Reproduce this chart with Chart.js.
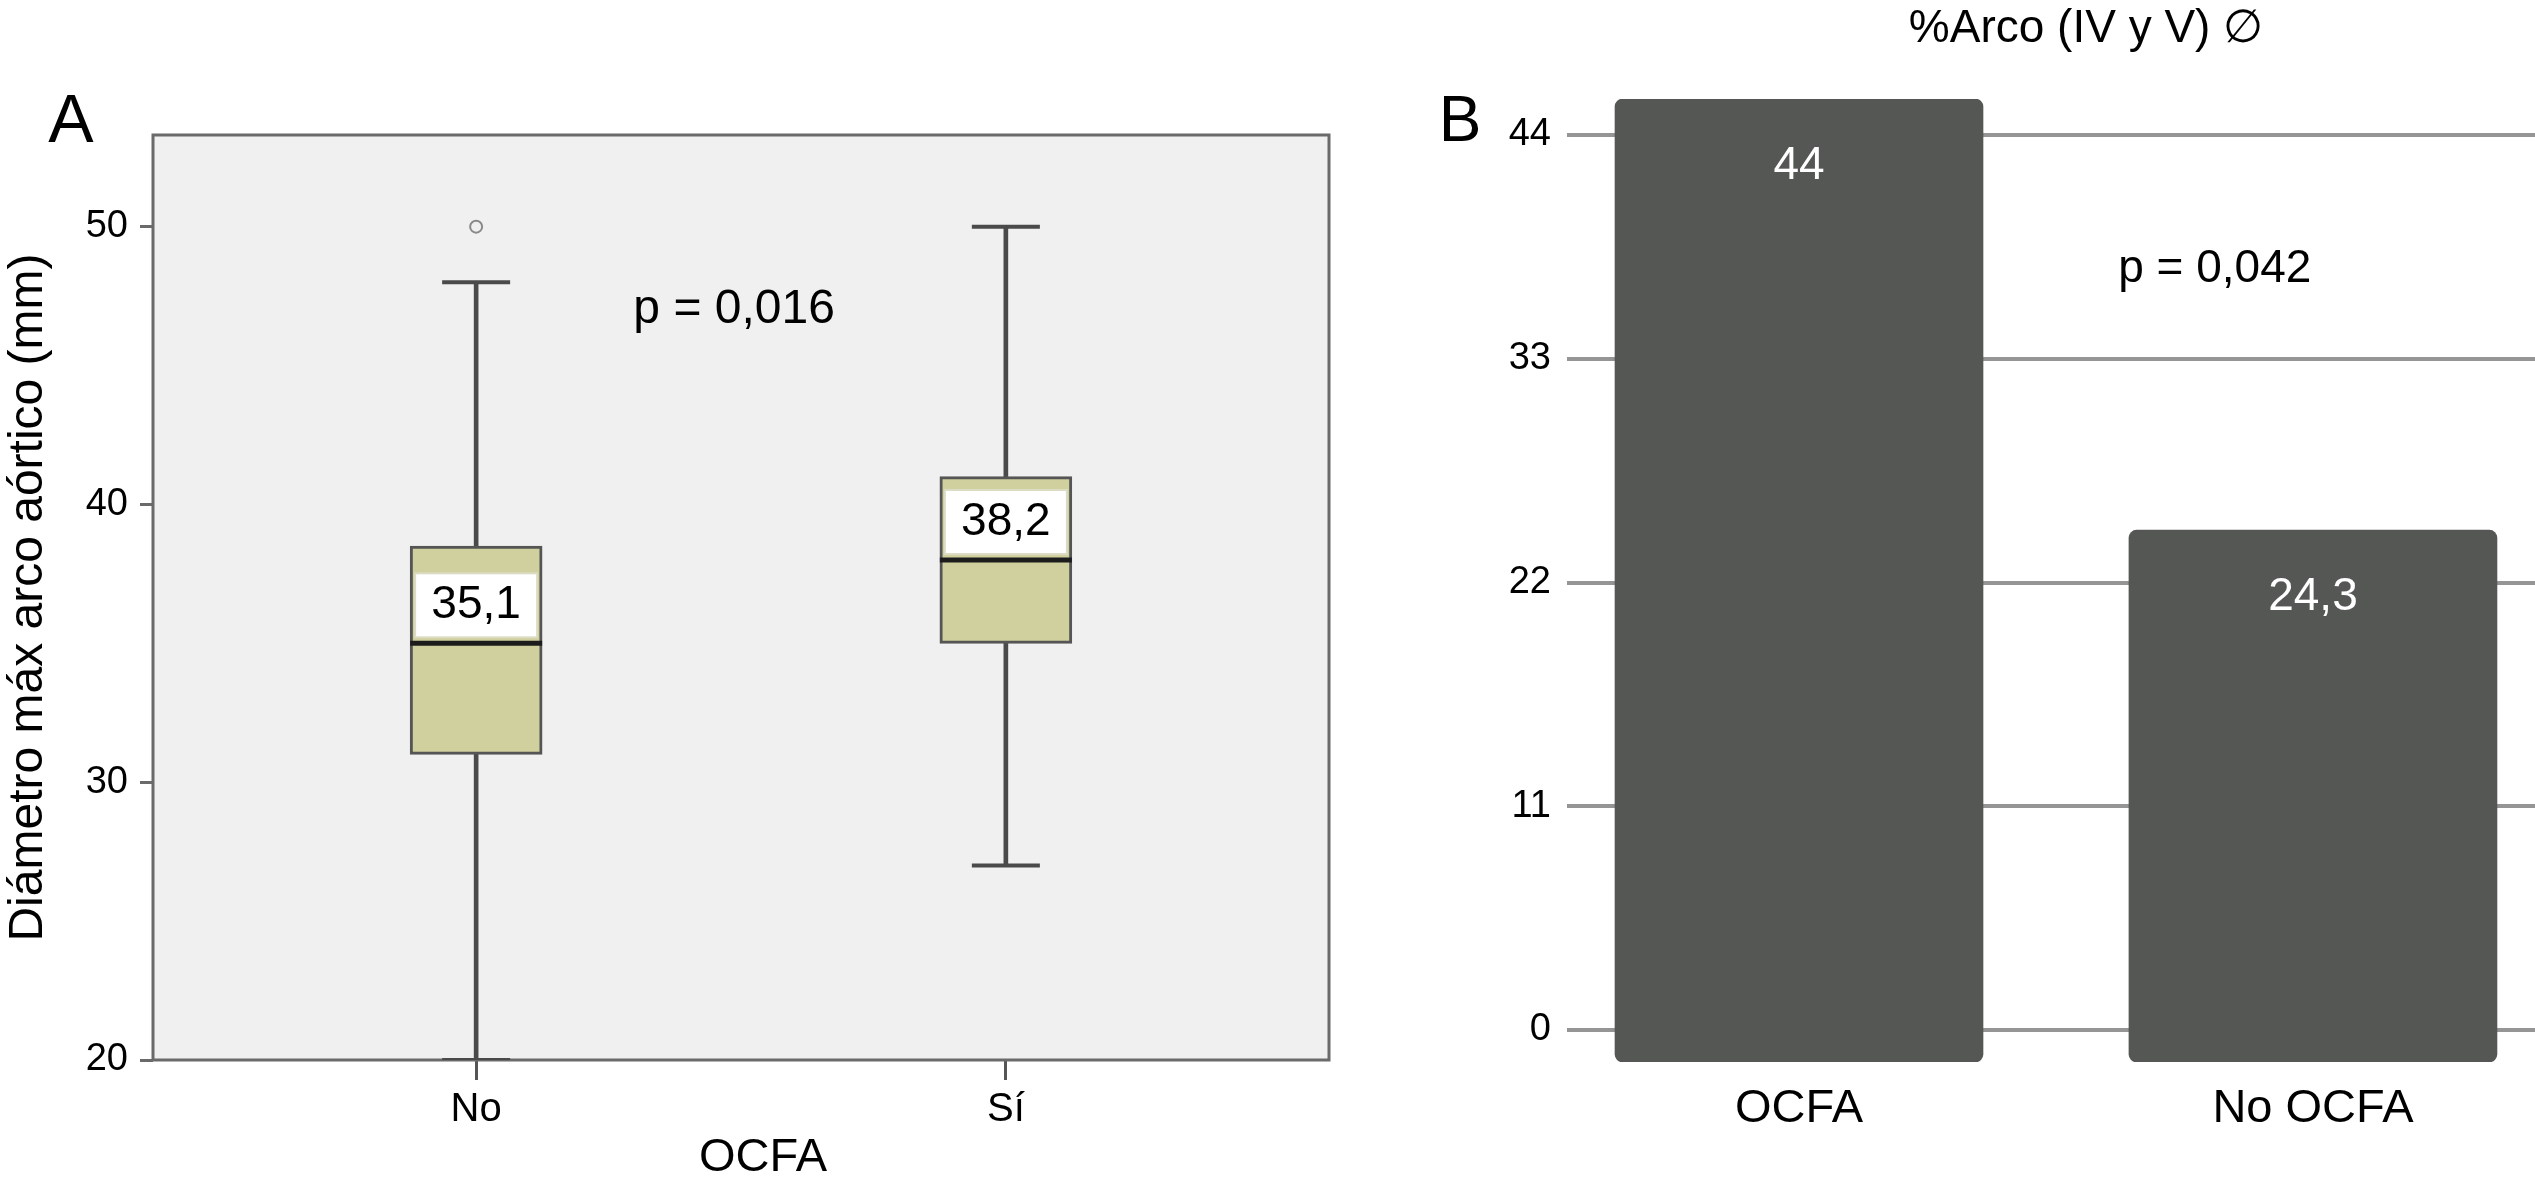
<!DOCTYPE html>
<html>
<head>
<meta charset="utf-8">
<title>OCFA</title>
<script src="https://cdn.jsdelivr.net/npm/chart.js@4.4.1/dist/chart.umd.min.js"></script>
<style>
  body { margin: 0; background: #fff; width: 2535px; height: 1187px; position: relative; overflow: hidden; }
  #panelA { position: absolute; left: 0; top: 0; }
  #panelB { position: absolute; left: 1400px; top: 0; }
</style>
</head>
<body>
<canvas id="panelA" width="1400" height="1187"></canvas>
<canvas id="panelB" width="1135" height="1187"></canvas>
<script>
// --- datos panel A (boxplot) ---
const gruposA = ['No', 'Sí'];
const bigoteMinA = [20, 27];
const q1A = [31, 35];
const medianaA = [35, 38];
const q3A = [38.5, 41];
const bigoteMaxA = [48, 50];
const mediaA = [35.1, 38.2];
const atipicosA = [[50], []];
const ticksA = [20, 30, 40, 50];

// --- datos panel B (barras) ---
const gruposB = ['OCFA', 'No OCFA'];
const porcentajeB = [44, 24.3];
const ticksB = [0, 11, 22, 33, 44];

Chart.defaults.font.family = "'Liberation Sans', Arial, Helvetica, sans-serif";
Chart.defaults.color = '#000';

let coma = v => String(v).replace('.', ',');

// textos sueltos (letras de panel, titulos, p)
const textos = {
    id: 'textos',
    afterDraw(chart, args, opts) {
        let ctx = chart.ctx;
        (opts.items || []).forEach(t => {
            let x = t.x, y = t.y;
            if (t.enEscala) {
                x = chart.scales.x.getPixelForValue(t.x);
                y = chart.scales.y.getPixelForValue(t.y);
            }
            ctx.save();
            ctx.font = t.font;
            ctx.fillStyle = t.color || '#000';
            ctx.textAlign = 'center';
            ctx.textBaseline = 'middle';
            ctx.fillText(t.text, x, y);
            ctx.restore();
        });
    }
};

// fondo gris y marco del area del grafico A
const marco = {
    id: 'marco',
    beforeDraw(chart) {
        let a = chart.chartArea;
        let ctx = chart.ctx;
        ctx.save();
        ctx.fillStyle = '#f0f0f0';
        ctx.fillRect(a.left, a.top, a.right - a.left, a.bottom - a.top);
        ctx.restore();
    },
    beforeDatasetsDraw(chart) {
        let a = chart.chartArea;
        let ctx = chart.ctx;
        ctx.save();
        ctx.strokeStyle = '#6a6a6a';
        ctx.lineWidth = 3;
        ctx.strokeRect(a.left, a.top, a.right - a.left, a.bottom - a.top);
        ctx.restore();
    }
};

// etiquetas blancas con la media sobre la mediana
const etiquetasMedia = {
    id: 'etiquetasMedia',
    afterDatasetsDraw(chart) {
        let ctx = chart.ctx;
        let sx = chart.scales.x, sy = chart.scales.y;
        gruposA.forEach((g, i) => {
            let x = sx.getPixelForValue(i);
            let yMed = sy.getPixelForValue(medianaA[i]);
            let w = 122, h = 64;
            ctx.save();
            ctx.fillStyle = '#fff';
            ctx.strokeStyle = '#dcdcc4';
            ctx.lineWidth = 2;
            ctx.fillRect(x - w / 2, yMed - 6 - h, w, h);
            ctx.strokeRect(x - w / 2, yMed - 6 - h, w, h);
            ctx.font = "46px 'Liberation Sans', Arial, sans-serif";
            ctx.fillStyle = '#000';
            ctx.textAlign = 'center';
            ctx.textBaseline = 'middle';
            ctx.fillText(coma(mediaA[i]), x, yMed - 6 - h / 2);
            ctx.restore();
        });
    }
};

// valores dentro de las barras B
const valoresBarra = {
    id: 'valoresBarra',
    afterDatasetsDraw(chart) {
        let ctx = chart.ctx;
        let meta = chart.getDatasetMeta(0);
        meta.data.forEach((bar, i) => {
            ctx.save();
            ctx.font = "46px 'Liberation Sans', Arial, sans-serif";
            ctx.fillStyle = '#fff';
            ctx.textAlign = 'center';
            ctx.textBaseline = 'middle';
            ctx.fillText(coma(porcentajeB[i]), bar.x, bar.y + 67);
            ctx.restore();
        });
    }
};

let cajas = gruposA.map((g, i) => ({ x: i, y: [q1A[i], q3A[i]] }));
let bigotesBajos = gruposA.map((g, i) => ({ x: i, y: [bigoteMinA[i], q1A[i]] }));
let bigotesAltos = gruposA.map((g, i) => ({ x: i, y: [q3A[i], bigoteMaxA[i]] }));
let topes = [];
gruposA.forEach((g, i) => {
    topes.push({ x: i, y: bigoteMinA[i] });
    topes.push({ x: i, y: bigoteMaxA[i] });
});
let medianas = gruposA.map((g, i) => ({ x: i, y: medianaA[i] }));
let atipicos = atipicosA.flatMap((vals, i) => vals.map(v => ({ x: i, y: v })));

new Chart(document.getElementById('panelA'), {
    type: 'bar',
    data: {
        datasets: [
            {
                type: 'scatter', data: medianas, order: 0,
                pointStyle: 'line', pointRadius: 66, pointBorderWidth: 5,
                pointBorderColor: '#1c1c1c', pointBackgroundColor: '#1c1c1c'
            },
            {
                type: 'scatter', data: atipicos, order: 1,
                pointStyle: 'circle', pointRadius: 6, pointBorderWidth: 2,
                pointBorderColor: '#8a8a8a', pointBackgroundColor: '#f0f0f0'
            },
            {
                type: 'scatter', data: topes, order: 2,
                pointStyle: 'line', pointRadius: 34, pointBorderWidth: 4,
                pointBorderColor: '#4a4a4a'
            },
            {
                data: cajas, order: 3, grouped: false, barThickness: 132,
                backgroundColor: '#cfd09d', borderColor: '#555555',
                borderWidth: 3, borderSkipped: false
            },
            {
                data: bigotesBajos, order: 4, grouped: false, barThickness: 4,
                backgroundColor: '#4a4a4a', borderWidth: 0
            },
            {
                data: bigotesAltos, order: 4, grouped: false, barThickness: 4,
                backgroundColor: '#4a4a4a', borderWidth: 0
            }
        ]
    },
    options: {
        responsive: false,
        devicePixelRatio: 1,
        animation: false,
        layout: { padding: { top: 135, right: 68, left: 0, bottom: 0 } },
        plugins: {
            legend: { display: false },
            tooltip: { enabled: false },
            textos: {
                items: [
                    { text: 'A', x: 71, y: 123, font: "68px 'Liberation Sans', Arial, sans-serif" },
                    { text: 'OCFA', x: 763, y: 1158, font: "47px 'Liberation Sans', Arial, sans-serif" },
                    { text: 'p = 0,016', x: 0.487, y: 47, enEscala: true, font: "48px 'Liberation Sans', Arial, sans-serif" }
                ]
            }
        },
        scales: {
            x: {
                type: 'linear',
                min: -0.61,
                max: 1.61,
                offset: false,
                afterFit: s => { s.height = 127; },
                afterBuildTicks: s => { s.ticks = gruposA.map((g, i) => ({ value: i })); },
                ticks: {
                    callback: v => gruposA[v],
                    font: { size: 40 },
                    padding: 6,
                    maxRotation: 0
                },
                grid: {
                    drawOnChartArea: false, tickLength: 20, offset: false,
                    color: '#555555', lineWidth: 3
                },
                border: { display: false }
            },
            y: {
                min: 20,
                max: 53.3,
                beginAtZero: false,
                afterFit: s => { s.width = 153; },
                afterBuildTicks: s => { s.ticks = ticksA.map(v => ({ value: v })); },
                ticks: { font: { size: 38 }, padding: 12 },
                grid: {
                    drawOnChartArea: false, tickLength: 13,
                    color: '#6a6a6a', lineWidth: 3
                },
                border: { display: false },
                title: {
                    display: true, text: 'Diámetro máx arco aórtico (mm)',
                    font: { size: 48 }, padding: { top: 0, bottom: 0 }
                }
            }
        }
    },
    plugins: [marco, etiquetasMedia, textos]
});

new Chart(document.getElementById('panelB'), {
    type: 'bar',
    data: {
        datasets: [{
            data: gruposB.map((g, i) => ({ x: i, y: porcentajeB[i] })),
            yAxisID: 'yBar',
            barThickness: 368,
            backgroundColor: '#555755',
            borderRadius: 8,
            borderSkipped: false
        }]
    },
    options: {
        responsive: false,
        devicePixelRatio: 1,
        animation: false,
        layout: { padding: { top: 99, right: 0, left: 0, bottom: 0 } },
        plugins: {
            legend: { display: false },
            tooltip: { enabled: false },
            textos: {
                items: [
                    { text: 'B', x: 60, y: 123, font: "64px 'Liberation Sans', Arial, sans-serif" },
                    { text: '%Arco (IV y V) ∅', x: 686, y: 29, font: "46px 'Liberation Sans', Arial, sans-serif" },
                    { text: 'p = 0,042', x: 0.809, y: 37.4, enEscala: true, font: "46px 'Liberation Sans', Arial, sans-serif" }
                ]
            }
        },
        scales: {
            x: {
                type: 'linear',
                min: -0.4514,
                max: 1.432,
                offset: false,
                afterFit: s => { s.height = 125; },
                afterBuildTicks: s => { s.ticks = gruposB.map((g, i) => ({ value: i })); },
                ticks: {
                    callback: v => gruposB[v],
                    font: { size: 47 },
                    padding: 11,
                    maxRotation: 0
                },
                grid: { display: false, offset: false },
                border: { display: false }
            },
            y: {
                position: 'left',
                min: -1.573,
                max: 45.77,
                beginAtZero: false,
                afterFit: s => { s.width = 167; },
                afterBuildTicks: s => { s.ticks = ticksB.map(v => ({ value: v })); },
                ticks: { font: { size: 38 }, padding: 16 },
                grid: { drawTicks: false, color: '#959595', lineWidth: 4 },
                border: { display: false }
            },
            yBar: {
                display: false,
                position: 'left',
                min: 0,
                max: 44
            }
        }
    },
    plugins: [valoresBarra, textos]
});
</script>
</body>
</html>
